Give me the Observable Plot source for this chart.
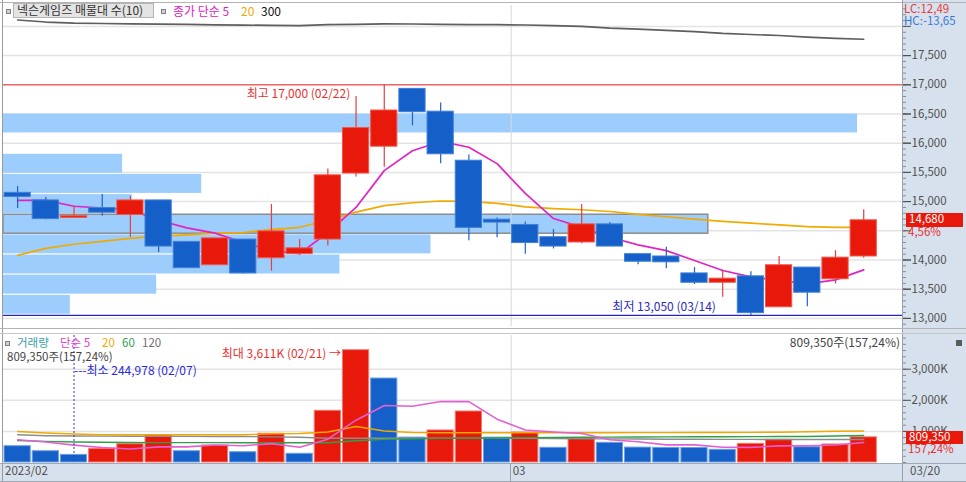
<!DOCTYPE html>
<html><head><meta charset="utf-8">
<script src="https://cdn.jsdelivr.net/npm/d3@7"></script>
<script src="https://cdn.jsdelivr.net/npm/@observablehq/plot@0.6"></script>
<style>
body{margin:0;background:#fff;}
#wrap{position:relative;width:966px;height:482px;overflow:hidden;background:#fff;font-family:"Noto Sans CJK KR",sans-serif;font-size:12px;}
#wrap svg{position:absolute;left:0;}
.t{position:absolute;white-space:nowrap;line-height:1;}
</style></head><body><div id="wrap"></div>
<script>
// ---- data ----
const dates = ["02/03","02/06","02/07","02/08","02/09","02/10","02/13","02/14","02/15","02/16","02/17","02/20","02/21","02/22","02/23","02/24","02/27","02/28","03/02","03/03","03/06","03/07","03/08","03/09","03/10","03/13","03/14","03/15","03/16","03/17","03/20"];
const open  = [15150,15020,14720,14890,14770,15020,14310,13910,14350,14030,14100,14350,15480,15940,16930,16540,15700,14690,14600,14390,14300,14610,14100,14060,13770,13610,13720,13190,13870,13670,14060];
const high  = [15260,15070,14920,15120,15090,15020,14310,14370,14350,14950,14350,15560,16800,17000,16930,16690,15800,14720,14650,14520,14950,14640,14100,14220,13870,13830,13800,14060,13870,14160,14860];
const low   = [14880,14690,14720,14750,14390,14130,13860,13910,13760,13810,14080,14240,15420,15590,16300,15650,14330,14380,14100,14190,14280,14230,13920,13850,13580,13360,13050,13190,13200,13590,14030];
const close = [15080,14700,14750,14810,15020,14230,13860,14370,13770,14490,14200,15450,16260,16560,16530,15810,14550,14640,14290,14230,14610,14230,13970,13960,13610,13680,13090,13910,13440,14040,14680];
const ma5   = [15020,15020,14920,14890,14860,14680,14550,14460,14300,14160,14110,14470,14900,15530,15870,16030,15930,15650,15140,14710,14560,14390,14260,14160,13990,13820,13710,13650,13590,13660,13830];
const ma20  = [14080,14200,14270,14320,14370,14410,14430,14460,14470,14520,14560,14680,14820,14930,14980,15010,15005,14970,14910,14880,14860,14830,14780,14740,14700,14660,14630,14600,14570,14560,14560];
const ma300 = [18110,18075,18055,18050,18045,18040,18035,18027,18022,18018,18015,18029,18036,18042,18041,18036,18032,18030,18024,18015,18000,17972,17955,17933,17912,17881,17861,17844,17815,17796,17780];
const volume = [524000,363000,244978,440000,588000,868000,363000,547000,331000,923000,280000,1662000,3611000,2700000,800000,1030000,1640000,800000,965000,473000,780000,633000,480000,470000,465000,408000,600000,730000,492000,579000,809350];
const volumeUp = [false,false,false,true,true,true,false,true,false,true,false,true,true,false,false,true,true,false,true,false,true,false,false,false,false,false,true,true,false,true,true];
const volMa5   = [730000,660000,560000,480000,432000,501000,501000,561000,539000,606000,489000,749000,1361000,1835000,1811000,1961000,1956000,1394000,1047000,982000,932000,730000,666000,567000,566000,491000,485000,535000,539000,562000,642000];
const volMa20  = [997000,949000,916000,891000,891000,891000,891000,891000,891000,923000,932000,981000,1158000,1013000,965000,955000,955000,955000,955000,955000,955000,955000,960000,960000,965000,965000,970000,974000,990000,1005000,1013000];
const volMa60  = [707000,680000,660000,650000,645000,640000,640000,638000,636000,634000,633000,633000,700000,745000,760000,775000,781000,790000,800000,805000,810000,815000,820000,825000,828000,830000,832000,834000,836000,850000,868000];
const volMa120 = [891000,862000,850000,847000,844000,842000,840000,838000,836000,825000,813000,781000,781000,781000,781000,781000,781000,781000,775000,770000,765000,760000,755000,750000,748000,745000,742000,740000,740000,740000,740000];
const profileLo  = [13060,13405,13750,14095,14440,14785,15130,15475,15820,16165];
const profileHi  = [13405,13750,14095,14440,14785,15130,15475,15820,16165,16510];
const profileVolK = [743,1704,3742,4755,7840,1433,2205,1325,0,9500];
const priceTicks = [13000,13500,14000,14500,15000,15500,16000,16500,17000,17500,18000];
const priceTickLabels = [13000,13500,14000,15000,15500,16000,16500,17000,17500];
const volTicks = [1000000,2000000,3000000];
const bottomTicks = [{date:"02/03", label:"2023/02"},{date:"03/02", label:"03"}];
const volRatioLabel = "157,24%";
const priceRateLabel = "4,56%";
const lcLabel = "LC:12,49", hcLabel = "HC:-13,65";

// ---- build ----
const RED = "#e8190b", BLUE = "#1560c8";
const fmt = d3.format(",");
const font = "'Noto Sans CJK KR', sans-serif";
const rows = dates.map((d,i)=>({date:d, open:open[i], high:high[i], low:low[i], close:close[i], ma5:ma5[i], ma20:ma20[i], ma300:ma300[i]}));
const vrows = dates.map((d,i)=>({date:d, vol:volume[i], up:volumeUp[i], m5:volMa5[i], m20:volMa20[i], m60:volMa60[i], m120:volMa120[i]}));
const profile = profileLo.map((lo,i)=>({lo, hi:profileHi[i], vol:profileVolK[i]}));
const lastClose = close[close.length-1];
const up = d => d.close >= d.open;
const yDomain = [12861, 18358];
const xBand = () => ({type:"band", domain:dates, range:[4,902], paddingInner:0.07, paddingOuter:0.455, align:0, round:false, axis:null});
const minorPrice = d3.range(12900, 18400, 100);
const minorVol = d3.range(0, 4000001, 200000);
const baseStyle = {background:"transparent", overflow:"visible", fontFamily:font, fontSize:"12px"};

const wrap = document.getElementById("wrap");
function box(l,t,w,h,bg,extra=""){const d=document.createElement("div");d.style.cssText=`position:absolute;left:${l}px;top:${t}px;width:${w}px;height:${h}px;background:${bg};${extra}`;wrap.appendChild(d);return d;}
function label(s,x,cy,color,size=12,anchor="start",extra=""){const d=document.createElement("div");d.className="t";d.textContent=s;d.style.cssText+=`color:${color};font-size:${size}px;top:${cy-0.57*size}px;`+(anchor==="end"?`right:${966-x}px;`:`left:${x}px;`)+extra;wrap.appendChild(d);return d;}

// axis backgrounds
box(902,0,64,463,"#d7e1ed");
box(0,463,966,19,"#d7e1ed");

// price base layer: grid + volume profile
const basePrice = Plot.plot({
  width:966, height:330, marginLeft:3, marginRight:64, marginTop:5, marginBottom:4,
  style: baseStyle,
  x:{type:"linear", domain:[0,10000], axis:null},
  y:{domain:yDomain, axis:null, label:null},
  marks:[
    Plot.ruleY(priceTicks, {stroke:"#e3e3e3", strokeWidth:1.5}),
    Plot.rect(profile, {x1:()=>0, x2:"vol", y1:"lo", y2:"hi", fill:"#9ccdfd", insetTop:0.6, insetBottom:0.6,
      stroke: d => (lastClose>=d.lo && lastClose<d.hi) ? "#8c8c8c" : "none", strokeWidth:1.5})
  ]
});
basePrice.style.top = "0px"; wrap.appendChild(basePrice);

const hiI = d3.maxIndex(high), loI = d3.minIndex(low);
const overlay = Plot.plot({
  width:966, height:330, marginLeft:3, marginRight:64, marginTop:5, marginBottom:4,
  style: baseStyle,
  x: xBand(),
  y:{domain:yDomain, axis:null, label:null},
  marks:[
    Plot.ruleX(["03/02"], {dx:-14.1, stroke:"#d8d8d8"}),
    Plot.ruleY([high[hiI]], {stroke:"#f06868", strokeWidth:1.5}),
    Plot.ruleY([low[loI]], {stroke:"#2424c4", strokeWidth:1.3}),
    Plot.line(rows, {x:"date", y:"ma300", stroke:"#5e5e5e", strokeWidth:1.7}),
    Plot.line(rows, {x:"date", y:"ma20", stroke:"#f0aa00", strokeWidth:1.7}),
    Plot.line(rows, {x:"date", y:"ma5", stroke:"#e024c4", strokeWidth:1.7}),
    Plot.ruleX(rows, {x:"date", y1:"low", y2:"high", stroke: d => up(d) ? "#e04040" : "#2060c8", strokeWidth:1.2}),
    Plot.barY(rows, {x:"date", y1:"open", y2:"close", fill: d => up(d) ? RED : BLUE, stroke: d => up(d) ? "#f0584c" : "#3f7fd9", strokeWidth:1}),
    Plot.text([hiI], {x:i=>dates[i], y:i=>high[i], text:i=>`최고 ${fmt(high[i])} (${dates[i]})`, textAnchor:"end", dx:-34, dy:9, fill:"#e8312f", fontSize:12}),
    Plot.text([loI], {x:i=>dates[i], y:i=>low[i], text:i=>`최저 ${fmt(low[i])} (${dates[i]})`, textAnchor:"end", dx:-35, dy:-8, fill:"#2a2ac0", fontSize:12}),
    Plot.axisY(minorPrice, {anchor:"right", tickSize:3, tickFormat:()=>"", color:"#8a8a8a", label:null}),
    Plot.axisY(priceTicks, {anchor:"right", tickSize:8, tickFormat:()=>"", color:"#505050", label:null}),
    Plot.axisY(priceTickLabels, {anchor:"right", tickSize:8, tickPadding:1, tickFormat:d=>fmt(d), fontSize:11.5, color:"#505050", label:null})
  ]
});
overlay.style.top = "0px"; wrap.appendChild(overlay);

const vMaxI = d3.maxIndex(volume), vMinI = d3.minIndex(volume);
const VTOP = 333;
const volPlot = Plot.plot({
  width:966, height:130, marginLeft:3, marginRight:64, marginTop:2, marginBottom:1,
  style: baseStyle,
  x: xBand(),
  y:{domain:[0,4083600], axis:null, label:null},
  marks:[
    Plot.ruleY(volTicks, {stroke:"#e3e3e3", strokeWidth:1.5}),
    Plot.ruleX(["03/02"], {dx:-14.1, stroke:"#d8d8d8"}),
    Plot.barY(vrows, {x:"date", y:"vol", fill:d=>d.up?RED:BLUE, stroke:d=>d.up?"#f37a70":"#6c9fe3", strokeWidth:1}),
    Plot.line(vrows, {x:"date", y:"m120", stroke:"#8c8c8c", strokeWidth:1.4}),
    Plot.line(vrows, {x:"date", y:"m60", stroke:"#2fa045", strokeWidth:1.4}),
    Plot.line(vrows, {x:"date", y:"m20", stroke:"#f0a800", strokeWidth:1.4}),
    Plot.line(vrows, {x:"date", y:"m5", stroke:"#e45fd2", strokeWidth:1.6}),
    Plot.ruleX([vMinI], {x:i=>dates[i], stroke:"#3434e0", strokeDasharray:"2,2"}),
    Plot.text([vMinI], {x:i=>dates[i], frameAnchor:"top", text:i=>`---최소 ${fmt(volume[i])} (${dates[i]})`, textAnchor:"start", dy:31, fill:"#2a2ae0", fontSize:12}),
    Plot.text([vMaxI], {x:i=>dates[i], y:i=>volume[i], text:i=>`최대 ${fmt(Math.round(volume[i]/1000))}K (${dates[i]}) →`, textAnchor:"end", dx:-15, dy:3.5, fill:"#e8312f", fontSize:12}),
    Plot.axisY(minorVol, {anchor:"right", tickSize:3, tickFormat:()=>"", color:"#8a8a8a", label:null}),
    Plot.axisY(volTicks, {anchor:"right", tickSize:8, tickPadding:1, tickFormat:d=>fmt(d/1000)+"K", fontSize:11.5, color:"#505050", label:null})
  ]
});
volPlot.style.top = VTOP+"px"; wrap.appendChild(volPlot);

// frame lines
box(2,0,1,482,"#9a9a9a");
box(0,2,966,1,"#b4b4b4");
box(902,0,1,482,"#98a2ae");
box(0,328,966,1,"#b4b4b4");
box(0,333,966,1,"#c6c6c6");
box(0,463,966,1,"#a0a8b4");
box(0,481,966,1,"#a0a8b4");

const xs = overlay.scale("x");
const ys = overlay.scale("y");
const vys = volPlot.scale("y");
const sepX = xs.apply("03/02") - 1.5;
box(Math.round(sepX),463,1,19,"#98a2ae");

// price legend
box(6,9,5,5,"#d0d0d0","border:1px solid #808080;box-sizing:border-box;");
box(13,3,141,15,"#e4e4e4","border:1px solid #b4b4b4;box-sizing:border-box;");
label("넥슨게임즈 매물대 수(10)",17,11,"#333");
box(161,9,5,5,"#d0d0d0","border:1px solid #808080;box-sizing:border-box;");
label("종가 단순 5",173,12,"#e020c0");
label("20",241,12,"#f0a800");
label("300",261,12,"#111");

// LC/HC
label(lcLabel,904,9.5,"#e83c3c",11.5);
label(hcLabel,904,22,"#3a78d8",11.5);

// last price box
const yLast = ys.apply(lastClose);
box(906,yLast-7,57,14,RED);
label(fmt(lastClose),909,yLast,"#fff",11.5);
label(priceRateLabel,908,yLast+12.5,"#e83030",11.5);

// volume legend
box(5,341,5,5,"#d0d0d0","border:1px solid #808080;box-sizing:border-box;");
label("거래량",17,343.5,"#3aa0a8",11.5);
label("단순 5",60,343.5,"#e040d0",11.5);
label("20",102,343.5,"#f0a800",11.5);
label("60",122,343.5,"#2fa050",11.5);
label("120",142,343.5,"#707070",11.5);
const lastVol = volume[volume.length-1];
label(`${fmt(lastVol)}주(${volRatioLabel})`,7,357.5,"#444",11.5);
label(`${fmt(lastVol)}주(${volRatioLabel})`,900,343,"#444",12,"end");
box(956,340,6,6,"#5a5a5a");

// last volume box
const yVol = VTOP + vys.apply(lastVol);
box(906,yVol-6,57,13,RED);
label(fmt(lastVol),909,yVol+0.5,"#fff",11.5);
label(volRatioLabel,908,yVol+13,"#e83030",11.5);

// bottom axis
for (const t of bottomTicks) {
  label(t.label, xs.apply(t.date)+1, 472, "#505050", 11.5);
}
label(dates[dates.length-1], 910, 472, "#505050", 11.5);
</script></body></html>
